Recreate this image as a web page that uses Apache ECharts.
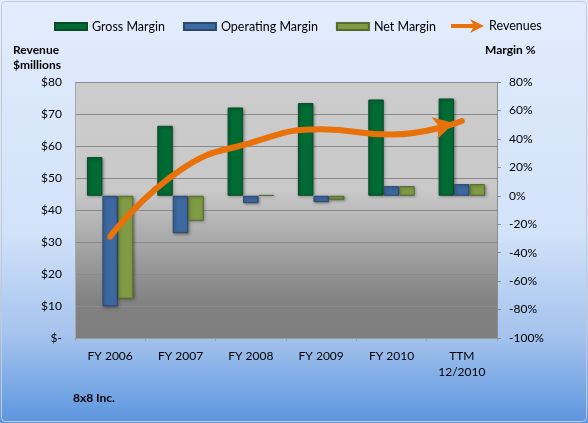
<!DOCTYPE html>
<html>
<head>
<meta charset="utf-8">
<script src="https://cdn.jsdelivr.net/npm/echarts@6/dist/echarts.min.js"></script>
<style>
html,body{margin:0;padding:0;}
#c{width:588px;height:423px;}
</style>
</head>
<body>
<div id="c"></div>
<script>
const categories = ['FY 2006', 'FY 2007', 'FY 2008', 'FY 2009', 'FY 2010', 'TTM\n12/2010'];
const grossMargin = [27.2, 49.2, 62.1, 65.2, 67.7, 68.4];
const operatingMargin = [-77.8, -26.3, -5.2, -4.5, 6.8, 8.2];
const netMargin = [-72.4, -17.6, 0.5, -2.8, 6.8, 8.2];
const revenues = [31.7, 52.5, 61.0, 65.2, 63.6, 67.8];

const FONT = 'Lato';
const chart = echarts.init(document.getElementById('c'));

const revData = revenues.map((v, i) => i === revenues.length - 1
  ? { value: v, symbol: 'arrow', symbolSize: [17, 20], symbolRotate: -75, symbolOffset: [-8, 2] }
  : { value: v, symbol: 'none' });

const arrowIcon = 'path://M0,5 L22,5 L19,0 L33,7 L19,14 L22,9 L0,9 Z';

chart.setOption({
  animation: false,
  backgroundColor: {
    type: 'linear', x: 0, y: 0, x2: 0, y2: 1,
    colorStops: [
      { offset: 0, color: '#e2ecfc' },
      { offset: 0.55, color: '#d2e2f9' },
      { offset: 0.8, color: '#a3c2ed' },
      { offset: 1, color: '#5b95df' }
    ]
  },
  textStyle: { fontFamily: FONT },
  graphic: [
    { type: 'rect', shape: { x: 1.5, y: 1.5, width: 585, height: 420, r: 4 },
      style: { fill: 'none', stroke: '#c4c9d2', lineWidth: 1 }, silent: true },
    { type: 'text', left: 13, top: 44, style: { text: 'Revenue', font: 'bold 12px ' + FONT, fill: '#000' } },
    { type: 'text', left: 13, top: 59, style: { text: '$millions', font: 'bold 12px ' + FONT, fill: '#000' } },
    { type: 'text', left: 485, top: 44, style: { text: 'Margin %', font: 'bold 12px ' + FONT, fill: '#000' } },
    { type: 'text', left: 73, top: 392, style: { text: '8x8 Inc.', font: 'bold 12px ' + FONT, fill: '#000' } }
  ],
  legend: [
    {
      left: 54, top: 20, padding: 0, itemWidth: 32, itemHeight: 7, itemGap: 18,
      icon: 'rect',
      textStyle: { fontSize: 12.5, color: '#000', fontFamily: FONT },
      data: ['Gross Margin', 'Operating Margin', 'Net Margin']
    },
    {
      left: 451, top: 19, padding: 0, itemWidth: 33, itemHeight: 14,
      textStyle: { fontSize: 12.5, color: '#000', fontFamily: FONT },
      data: [{ name: 'Revenues', icon: arrowIcon, itemStyle: { color: '#e8710a' } }]
    }
  ],
  grid: {
    left: 75, right: 91, top: 82, bottom: 85, show: true, borderWidth: 0,
    backgroundColor: {
      type: 'linear', x: 0, y: 0, x2: 0, y2: 1,
      colorStops: [
        { offset: 0, color: '#cccccc' },
        { offset: 0.42, color: '#c9c9c9' },
        { offset: 0.86, color: '#818181' },
        { offset: 1, color: '#7f7f7f' }
      ]
    }
  },
  xAxis: {
    type: 'category', data: categories,
    axisLine: { lineStyle: { color: '#9a9a9a' } },
    axisTick: { show: true, length: 3, lineStyle: { color: '#a0a0a0' } },
    axisLabel: { color: '#000', fontSize: 12, margin: 10, lineHeight: 16, fontFamily: FONT }
  },
  yAxis: [
    {
      type: 'value', min: 0, max: 80, interval: 10,
      axisLine: { show: true, lineStyle: { color: '#a8a8a8' } },
      axisTick: { show: false },
      splitLine: { lineStyle: { color: '#8a8a8a', width: 1 } },
      axisLabel: { color: '#000', fontSize: 12, margin: 13, fontFamily: FONT,
        formatter: v => v === 0 ? '$-' : '$' + v }
    },
    {
      type: 'value', min: -100, max: 80, interval: 20, position: 'right',
      axisLine: { show: true, lineStyle: { color: '#8c8c8c' } },
      axisTick: { show: true, length: 4, lineStyle: { color: '#8c8c8c' } },
      splitLine: { show: false },
      axisLabel: { color: '#000', fontSize: 12, margin: 12, fontFamily: FONT,
        formatter: v => v + '%' }
    }
  ],
  series: [
    {
      name: 'Gross Margin', type: 'bar', yAxisIndex: 1, data: grossMargin,
      barGap: '0%', barCategoryGap: '34%',
      itemStyle: { color: '#006b33', borderColor: '#0c4a28', borderWidth: 1,
        shadowBlur: 3, shadowColor: 'rgba(0,0,0,0.35)', shadowOffsetX: 1, shadowOffsetY: 1 }
    },
    {
      name: 'Operating Margin', type: 'bar', yAxisIndex: 1, data: operatingMargin,
      itemStyle: { color: '#3d68a0', borderColor: '#2b4870', borderWidth: 1,
        shadowBlur: 3, shadowColor: 'rgba(0,0,0,0.35)', shadowOffsetX: 1, shadowOffsetY: 1 }
    },
    {
      name: 'Net Margin', type: 'bar', yAxisIndex: 1, data: netMargin,
      itemStyle: { color: '#7f9c44', borderColor: '#556a2e', borderWidth: 1,
        shadowBlur: 3, shadowColor: 'rgba(0,0,0,0.35)', shadowOffsetX: 1, shadowOffsetY: 1 }
    },
    {
      name: 'Revenues', type: 'line', yAxisIndex: 0, data: revData, smooth: true,
      z: 5,
      lineStyle: { color: '#e8710a', width: 6, cap: 'round' },
      itemStyle: { color: '#e8710a' }
    }
  ]
});
</script>
</body>
</html>
